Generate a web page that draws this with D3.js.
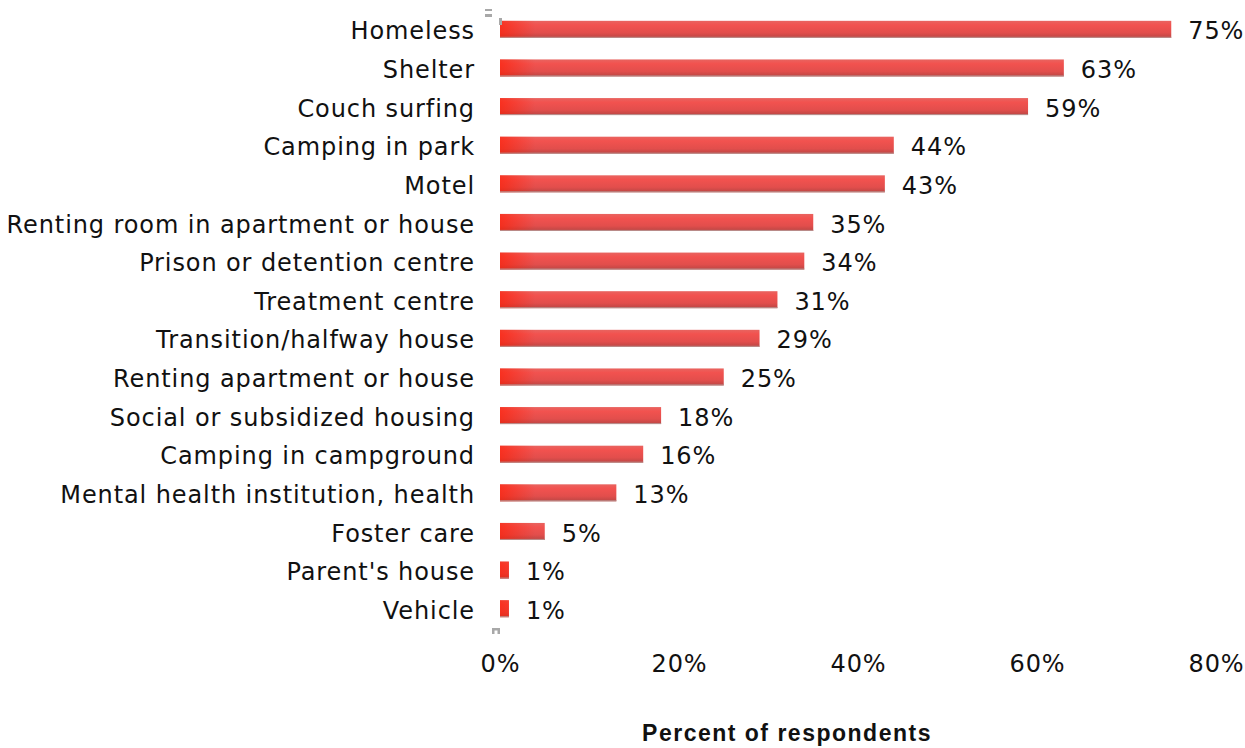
<!DOCTYPE html>
<html>
<head>
<meta charset="utf-8">
<script src="https://cdn.jsdelivr.net/npm/d3@7/dist/d3.min.js"></script>
<style>
  html, body { margin: 0; padding: 0; background: #fff; }
  svg { display: block; }
</style>
</head>
<body>
<svg id="chart" width="1245" height="748"></svg>
<script>
// Where respondents have lived
const categories = [
  "Homeless", "Shelter", "Couch surfing", "Camping in park", "Motel",
  "Renting room in apartment or house", "Prison or detention centre",
  "Treatment centre", "Transition/halfway house", "Renting apartment or house",
  "Social or subsidized housing ", "Camping in campground",
  "Mental health institution, health", "Foster care", "Parent's house", "Vehicle"
];
const values = [75, 63, 59, 44, 43, 35, 34, 31, 29, 25, 18, 16, 13, 5, 1, 1];
const tickValues = [0, 20, 40, 60, 80];
const axisTitle = "Percent of respondents";

const svg = d3.select("#chart");
const font = "'DejaVu Sans', sans-serif";
const fontSize = 24;
const spacing = "0.9px";

const x = d3.scaleLinear().domain([0, 80]).range([500, 1216]);
const y = d3.scaleBand().domain(categories).range([10, 628]).paddingInner(0.56).paddingOuter(0.28);

// Bar fill: vertical shading plus a warm highlight near the axis
const defs = svg.append("defs");
const vg = defs.append("linearGradient").attr("id", "barV")
  .attr("x1", 0).attr("y1", 0).attr("x2", 0).attr("y2", 1);
vg.append("stop").attr("offset", "0%").attr("stop-color", "#e86460");
vg.append("stop").attr("offset", "25%").attr("stop-color", "#f2524f");
vg.append("stop").attr("offset", "70%").attr("stop-color", "#e24e4c");
vg.append("stop").attr("offset", "100%").attr("stop-color", "#bb4644");

const hg = defs.append("linearGradient").attr("id", "barH")
  .attr("gradientUnits", "userSpaceOnUse")
  .attr("x1", 500).attr("y1", 0).attr("x2", 535).attr("y2", 0);
hg.append("stop").attr("offset", "0%").attr("stop-color", "#ff1a00").attr("stop-opacity", 0.6);
hg.append("stop").attr("offset", "100%").attr("stop-color", "#ff1a00").attr("stop-opacity", 0);

const bars = svg.append("g");
bars.selectAll("rect.bar").data(values).join("rect")
  .attr("class", "bar")
  .attr("x", x(0))
  .attr("y", (d, i) => y(categories[i]))
  .attr("width", d => x(d) - x(0))
  .attr("height", y.bandwidth())
  .attr("fill", "url(#barV)");
bars.selectAll("rect.hl").data(values).join("rect")
  .attr("class", "hl")
  .attr("x", x(0))
  .attr("y", (d, i) => y(categories[i]))
  .attr("width", d => x(d) - x(0))
  .attr("height", y.bandwidth())
  .attr("fill", "url(#barH)");
bars.selectAll("line.edge").data(values).join("line")
  .attr("class", "edge")
  .attr("x1", x(0)).attr("x2", d => x(d))
  .attr("y1", (d, i) => y(categories[i]) + y.bandwidth() - 0.5)
  .attr("y2", (d, i) => y(categories[i]) + y.bandwidth() - 0.5)
  .attr("stroke", "#b8908e").attr("stroke-width", 1);

// Value labels
svg.append("g").selectAll("text").data(values).join("text")
  .attr("x", d => x(d) + 17)
  .attr("y", (d, i) => y(categories[i]) + y.bandwidth() / 2)
  .attr("dy", "0.42em")
  .attr("font-family", font).attr("font-size", fontSize).attr("fill", "#111")
  .attr("letter-spacing", spacing)
  .text(d => d + "%");

// Category axis (labels only)
const yAxis = svg.append("g").attr("transform", `translate(${x(0)},0)`)
  .call(d3.axisLeft(y).tickSize(0).tickPadding(25));
yAxis.select(".domain").remove();
yAxis.selectAll("text").attr("font-family", font).attr("font-size", fontSize).attr("fill", "#111")
  .attr("letter-spacing", spacing).attr("dy", "0.42em");

// Value axis (labels only)
const xAxis = svg.append("g").attr("transform", "translate(0,663)")
  .call(d3.axisBottom(x).tickValues(tickValues).tickFormat(d => d + "%").tickSize(0).tickPadding(0));
xAxis.select(".domain").remove();
xAxis.selectAll("text").attr("font-family", font).attr("font-size", fontSize).attr("fill", "#111")
  .attr("letter-spacing", spacing).attr("dy", "0.36em").attr("y", 0);

// Small grey handles at the axis ends
const handles = svg.append("g").attr("fill", "#a8a8a8");
handles.append("rect").attr("x", 485).attr("y", 9).attr("width", 7).attr("height", 2);
handles.append("rect").attr("x", 485).attr("y", 14).attr("width", 7).attr("height", 3);
handles.append("rect").attr("x", 499).attr("y", 18).attr("width", 3).attr("height", 7);
handles.append("path").attr("d", "M492,634 v-6 h8 v6 h-2.5 v-3.5 h-3 v3.5 z");

// Axis title
svg.append("text")
  .attr("x", 787).attr("y", 741)
  .attr("text-anchor", "middle")
  .attr("font-family", "'Liberation Sans', Arial, sans-serif")
  .attr("font-weight", "bold").attr("font-size", 23).attr("fill", "#111")
  .attr("letter-spacing", "1.5px")
  .text(axisTitle);
</script>
</body>
</html>
